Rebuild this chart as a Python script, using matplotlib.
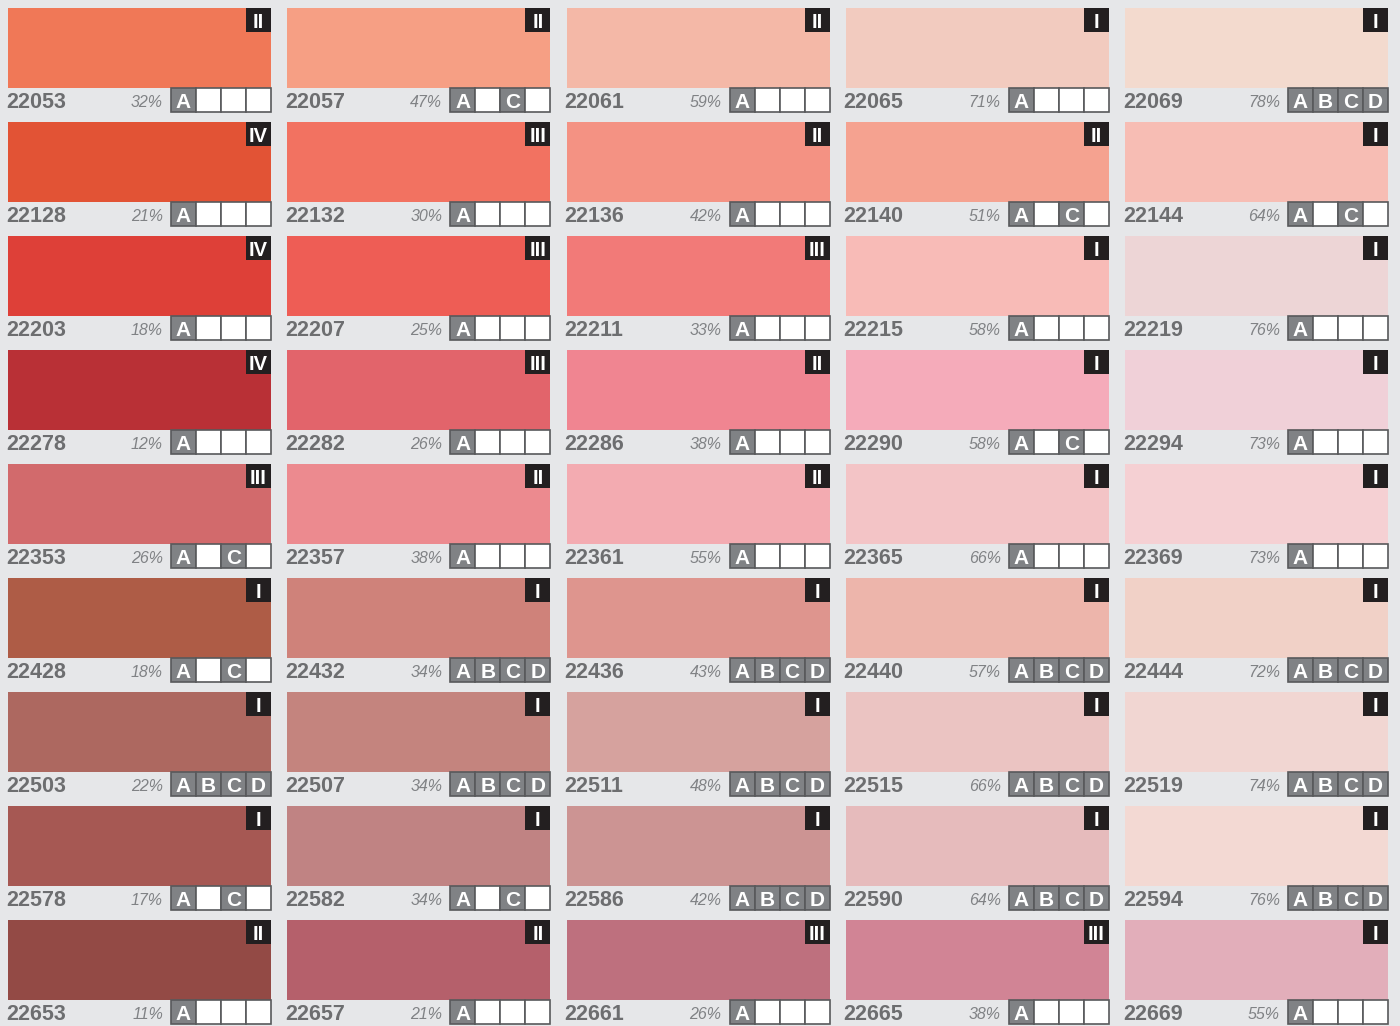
import matplotlib
matplotlib.use("Agg")
import matplotlib.pyplot as plt
from matplotlib.patches import Rectangle

# swatch data, one list per row (top to bottom), 5 columns each
codes = [
    ["22053", "22057", "22061", "22065", "22069"],
    ["22128", "22132", "22136", "22140", "22144"],
    ["22203", "22207", "22211", "22215", "22219"],
    ["22278", "22282", "22286", "22290", "22294"],
    ["22353", "22357", "22361", "22365", "22369"],
    ["22428", "22432", "22436", "22440", "22444"],
    ["22503", "22507", "22511", "22515", "22519"],
    ["22578", "22582", "22586", "22590", "22594"],
    ["22653", "22657", "22661", "22665", "22669"],
]
colors = [
    ["#F07857", "#F69F84", "#F4B8A7", "#F2CBBF", "#F3DACE"],
    ["#E25335", "#F27261", "#F49283", "#F5A290", "#F7BDB4"],
    ["#DE4038", "#EE5D55", "#F27A78", "#F8BBB7", "#EDD5D6"],
    ["#B93036", "#E2646B", "#F08591", "#F5ABBA", "#F0D0D8"],
    ["#D26A6C", "#EC8A8F", "#F3ABB1", "#F3C4C6", "#F5D0D3"],
    ["#AE5C46", "#CF827A", "#DE958E", "#EDB5AB", "#F1D1C7"],
    ["#AD6860", "#C4847E", "#D6A29E", "#EBC4C2", "#F1D6D2"],
    ["#A65853", "#C08383", "#CC9493", "#E6BBBC", "#F3D9D3"],
    ["#934A45", "#B5606B", "#BE707E", "#D18495", "#E2AEBA"],
]
numerals = [
    ["II", "II", "II", "I", "I"],
    ["IV", "III", "II", "II", "I"],
    ["IV", "III", "III", "I", "I"],
    ["IV", "III", "II", "I", "I"],
    ["III", "II", "II", "I", "I"],
    ["I", "I", "I", "I", "I"],
    ["I", "I", "I", "I", "I"],
    ["I", "I", "I", "I", "I"],
    ["II", "II", "III", "III", "I"],
]
percents = [
    [32, 47, 59, 71, 78],
    [21, 30, 42, 51, 64],
    [18, 25, 33, 58, 76],
    [12, 26, 38, 58, 73],
    [26, 38, 55, 66, 73],
    [18, 34, 43, 57, 72],
    [22, 34, 48, 66, 74],
    [17, 34, 42, 64, 76],
    [11, 21, 26, 38, 55],
]
flags = [
    ["A", "AC", "A", "A", "ABCD"],
    ["A", "A", "A", "AC", "AC"],
    ["A", "A", "A", "A", "A"],
    ["A", "A", "A", "AC", "A"],
    ["AC", "A", "A", "A", "A"],
    ["AC", "ABCD", "ABCD", "ABCD", "ABCD"],
    ["ABCD", "ABCD", "ABCD", "ABCD", "ABCD"],
    ["AC", "AC", "ABCD", "ABCD", "ABCD"],
    ["A", "A", "A", "A", "A"],
]
letters = "ABCD"

bg = "#E6E7E9"

fig = plt.figure(figsize=(14, 10.26), dpi=100, facecolor=bg)
ax = fig.add_axes([0, 0, 1, 1])
ax.set_xlim(0, 1400)
ax.set_ylim(1026, 0)
ax.axis("off")

sw_w, sw_h = 263, 80
col_step, row_step = 279.25, 114
box_w, box_h = 25, 24

for r in range(len(codes)):
    for c in range(len(codes[r])):
        x0 = 8 + c * col_step
        y0 = 8 + r * row_step
        ax.add_patch(Rectangle((x0, y0), sw_w, sw_h, facecolor=colors[r][c], edgecolor="none"))
        # roman numeral badge
        ax.add_patch(Rectangle((x0 + sw_w - 25, y0), 25, 24, facecolor="#231F20", edgecolor="none"))
        ax.text(x0 + sw_w - 12.5, y0 + 19.5, numerals[r][c], color="white", fontsize=14.5,
                fontweight="bold", family="Liberation Sans", ha="center", va="baseline")
        # code and percentage
        ax.text(x0 - 2, y0 + 100, codes[r][c], color="#6D6E70", fontsize=15.5, fontweight="bold",
                family="Liberation Sans", ha="left", va="baseline")
        ax.text(x0 + 155, y0 + 99, f"{percents[r][c]}%", color="#808285", fontsize=11.5,
                style="italic", family="Liberation Sans", ha="right", va="baseline")
        # A B C D boxes
        bx0 = x0 + sw_w - 4 * box_w
        by0 = y0 + sw_h
        for k, ch in enumerate(letters):
            on = ch in flags[r][c]
            ax.add_patch(Rectangle((bx0 + k * box_w, by0), box_w, box_h,
                                   facecolor="#808285" if on else "white",
                                   edgecolor="#58595B", linewidth=1.2))
            if on:
                ax.text(bx0 + k * box_w + box_w / 2, by0 + 20.5, ch, color="white",
                        fontsize=15, fontweight="bold", family="Liberation Sans",
                        ha="center", va="baseline")

fig.savefig("out.png", dpi=100, facecolor=bg)
